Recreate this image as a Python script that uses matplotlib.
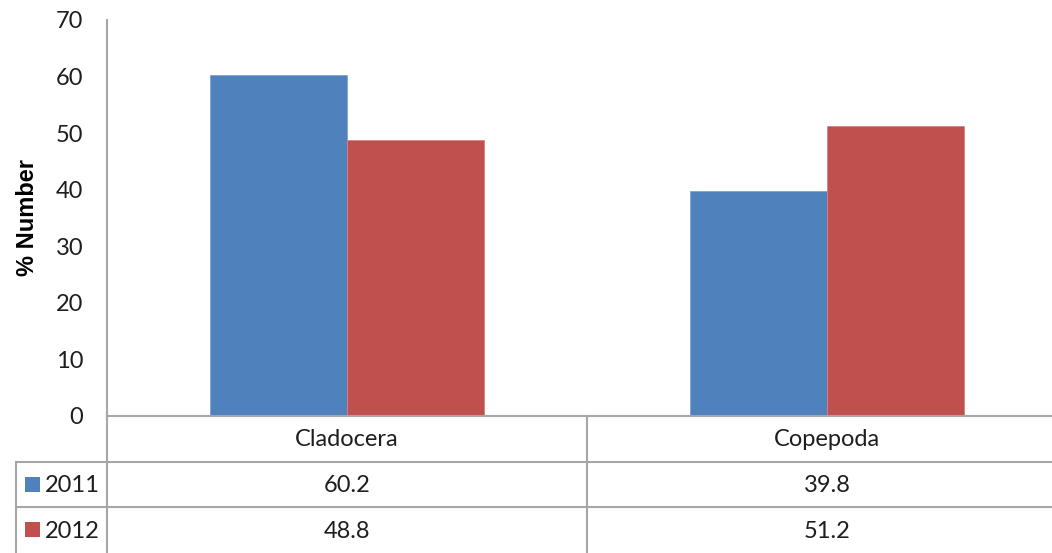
import matplotlib
matplotlib.use("Agg")
import matplotlib.pyplot as plt
from matplotlib.transforms import blended_transform_factory
from matplotlib.patches import Rectangle
from matplotlib.lines import Line2D

categories = ["Cladocera", "Copepoda"]
series_names = ["2011", "2012"]
values_2011 = [60.2, 39.8]
values_2012 = [48.8, 51.2]
y_ticks = [0, 10, 20, 30, 40, 50, 60, 70]

colors = ["#4F81BD", "#C0504D"]
grid_color = "#A6A6A6"
text_color = "#1E1E1E"
plt.rcParams["font.family"] = ["Lato", "DejaVu Sans"]
FS = 17

W, H = 1052, 553
fig = plt.figure(figsize=(W / 100, H / 100), dpi=100)

def fx(px):
    return px / W

def fy(py):
    return 1 - py / H

ax_left, ax_right, ax_top, ax_bottom = 107, 1067, 20, 416
ax = fig.add_axes([fx(ax_left), fy(ax_bottom), (ax_right - ax_left) / W,
                   (ax_bottom - ax_top) / H])

x = list(range(len(categories)))
bw = 0.2854
ax.bar([i - bw / 2 for i in x], values_2011, width=bw, color=colors[0],
       edgecolor="#7FA3D3", linewidth=0.6)
ax.bar([i + bw / 2 for i in x], values_2012, width=bw, color=colors[1],
       edgecolor="#D88280", linewidth=0.6)

ax.set_xlim(-0.5, len(categories) - 0.5)
ax.set_ylim(0, 70)
ax.set_yticks(y_ticks)
ax.tick_params(axis="y", length=0, pad=17, labelsize=FS, labelcolor=text_color)
ax.set_xticks([])
for s in ["top", "right", "bottom"]:
    ax.spines[s].set_visible(False)
ax.spines["left"].set_color(grid_color)
ax.spines["left"].set_linewidth(1.5)
ax.set_ylabel("% Number", fontsize=17, fontweight="bold",
              family="Liberation Sans", labelpad=12)

# Data table below the axis
tr = blended_transform_factory(ax.transData, fig.transFigure)
lw = 1.5
fig.add_artist(Line2D([fx(ax_left), 1], [fy(416), fy(416)], color=grid_color, lw=lw))
for ry in [462, 507]:
    fig.add_artist(Line2D([fx(16), 1], [fy(ry)] * 2, color=grid_color, lw=lw))
fig.add_artist(Line2D([fx(16), fx(16)], [fy(462), 0], color=grid_color, lw=lw))
fig.add_artist(Line2D([fx(ax_left), fx(ax_left)], [fy(416), 0], color=grid_color, lw=lw))
for i in range(len(categories) - 1):
    ax.add_artist(Line2D([i + 0.5, i + 0.5], [fy(416), 0], transform=tr,
                         color=grid_color, lw=lw, clip_on=False))

text_kw = dict(fontsize=FS, color=text_color, ha="center", va="center")
for i, cat in enumerate(categories):
    fig.text(i, fy(440), cat, transform=tr, **text_kw)
    fig.text(i, fy(486), f"{values_2011[i]:.1f}", transform=tr, **text_kw)
    fig.text(i, fy(531), f"{values_2012[i]:.1f}", transform=tr, **text_kw)

for j, (name, row_y) in enumerate(zip(series_names, [485, 530])):
    fig.add_artist(Rectangle((fx(25), fy(row_y + 7)), fx(15), 15 / H,
                             facecolor=colors[j], edgecolor="none"))
    fig.text(fx(45), fy(row_y + 1), name, fontsize=FS, color=text_color,
             ha="left", va="center")

fig.savefig("out.png", dpi=100)
